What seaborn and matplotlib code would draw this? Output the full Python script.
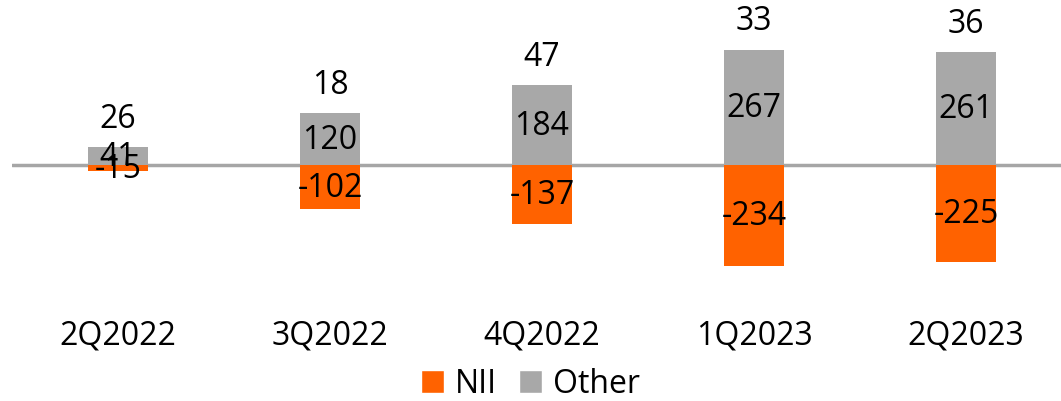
import matplotlib
matplotlib.use("Agg")
import matplotlib.pyplot as plt
import seaborn as sns
import pandas as pd
from matplotlib.patches import Patch

quarters = ["2Q2022", "3Q2022", "4Q2022", "1Q2023", "2Q2023"]
nii = [-15, -102, -137, -234, -225]
other = [41, 120, 184, 267, 261]
totals = [26, 18, 47, 33, 36]

ORANGE = "#FF6200"
GREY = "#A8A8A8"

sns.set_theme(style="white")
plt.rcParams["font.family"] = ["Open Sans", "DejaVu Sans"]
plt.rcParams["text.color"] = "black"
plt.rcParams["xtick.color"] = "black"
plt.rcParams["xtick.labelcolor"] = "black"
FS = 23

df = pd.DataFrame({"quarter": quarters, "NII": nii, "Other": other})

fig = plt.figure(figsize=(10.61, 4.02), dpi=100)
ax = fig.add_axes([12 / 1061, 102 / 402, 1060 / 1061, 300 / 402])

sns.barplot(data=df, x="quarter", y="Other", color=GREY, saturation=1,
            width=0.28, ax=ax, order=quarters, edgecolor=GREY, linewidth=0)
sns.barplot(data=df, x="quarter", y="NII", color=ORANGE, saturation=1,
            width=0.28, ax=ax, order=quarters, edgecolor=ORANGE, linewidth=0)

other_bars, nii_bars = ax.containers[0], ax.containers[1]
ax.bar_label(other_bars, labels=[str(v) for v in other], label_type="center",
             fontsize=FS, color="black")
ax.bar_label(nii_bars, labels=[str(v) for v in nii], label_type="center",
             fontsize=FS, color="black")
ax.bar_label(other_bars, labels=[str(v) for v in totals], padding=9,
             fontsize=FS, color="black")

ax.axhline(0, color="#A6A6A6", linewidth=2.5, zorder=0)

ax.set_xlim(-0.5, 4.5)
ax.set_ylim(-310, 384)
ax.set_xlabel("")
ax.set_ylabel("")
ax.set_yticks([])
ax.tick_params(axis="x", length=0, pad=14, labelsize=FS, labelcolor="black")
sns.despine(ax=ax, left=True, bottom=True)

handles = [Patch(facecolor=ORANGE, label="NII"), Patch(facecolor=GREY, label="Other")]
fig.legend(handles=handles, loc="center", bbox_to_anchor=(0.5, 1 - 385 / 402),
           ncol=2, frameon=False, fontsize=FS, handlelength=0.7, handleheight=0.7,
           handletextpad=0.35, columnspacing=0.7, labelcolor="black",
           borderpad=0.1)

fig.savefig("out.png", dpi=100)
